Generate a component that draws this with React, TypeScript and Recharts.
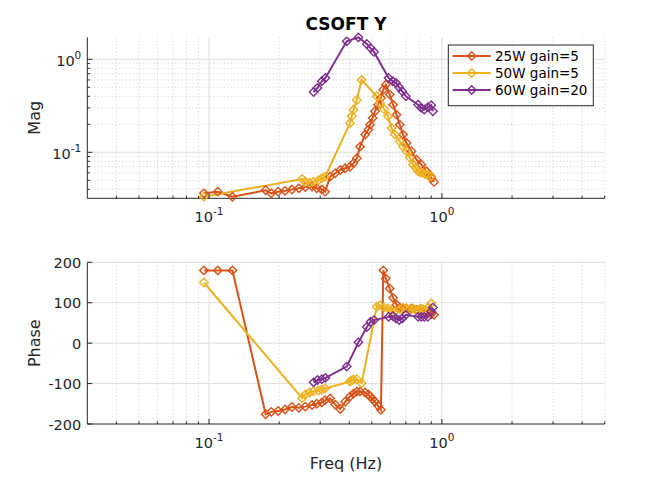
import React from 'react';
import { LineChart, Line, XAxis, YAxis, CartesianGrid } from 'recharts';

// ---------- data ----------
const freq25 = [0.095, 0.109, 0.126, 0.175, 0.185, 0.198, 0.212, 0.227, 0.243, 0.259, 0.277, 0.29, 0.305, 0.315, 0.331, 0.348, 0.366, 0.384, 0.403, 0.417, 0.431, 0.445, 0.468, 0.483, 0.491, 0.504, 0.516, 0.532, 0.547, 0.56, 0.574, 0.597, 0.617, 0.638, 0.659, 0.681, 0.704, 0.74, 0.778, 0.817, 0.858, 0.9, 0.925];
const mag25 = [0.0362, 0.0377, 0.0333, 0.039, 0.0362, 0.0377, 0.0385, 0.0398, 0.041, 0.0422, 0.0428, 0.041, 0.0398, 0.0377, 0.0547, 0.0594, 0.0645, 0.0673, 0.07, 0.076, 0.0862, 0.115, 0.155, 0.175, 0.198, 0.234, 0.276, 0.325, 0.384, 0.471, 0.533, 0.417, 0.325, 0.254, 0.198, 0.155, 0.126, 0.1025, 0.0832, 0.0736, 0.0625, 0.053, 0.048];
const phase25 = [180, 180, 180, -176, -170, -168, -164, -158, -160, -157, -153, -150, -147, -141, -137, -152, -163, -145, -132, -125, -120, -120, -122, -127, -132, -138, -145, -155, -165, 180, 160, 135, 112, 95, 88, 86, 86, 85, 82, 82, 78, 72, 70];

const freq50 = [0.095, 0.251, 0.259, 0.27, 0.281, 0.295, 0.305, 0.315, 0.403, 0.41, 0.417, 0.431, 0.452, 0.525, 0.542, 0.565, 0.587, 0.608, 0.628, 0.659, 0.681, 0.704, 0.728, 0.752, 0.77, 0.79, 0.81, 0.829, 0.85, 0.871, 0.9];
const mag50 = [0.0333, 0.0516, 0.0483, 0.047, 0.0483, 0.05, 0.0525, 0.0547, 0.206, 0.244, 0.287, 0.365, 0.6, 0.4, 0.339, 0.29, 0.244, 0.182, 0.155, 0.131, 0.115, 0.1025, 0.088, 0.0736, 0.068, 0.0625, 0.061, 0.0599, 0.058, 0.0575, 0.0552];
const phase50 = [150, -136, -127, -122, -119, -117, -115, -112, -95, -92, -90, -89, -99, 90, 94, 88, 86, 82, 78, 84, 88, 86, 84, 86, 82, 82, 86, 84, 82, 88, 98];

const freq60 = [0.281, 0.292, 0.305, 0.316, 0.39, 0.438, 0.476, 0.494, 0.511, 0.59, 0.615, 0.635, 0.655, 0.675, 0.7, 0.79, 0.815, 0.84, 0.87, 0.9, 0.915];
const mag60 = [0.445, 0.491, 0.58, 0.63, 1.56, 1.72, 1.46, 1.32, 1.2, 0.63, 0.58, 0.556, 0.5, 0.453, 0.4, 0.325, 0.3, 0.288, 0.305, 0.32, 0.276];
const phase60 = [-97, -91, -89, -86, -58, 2, 40, 53, 57, 65, 67, 61, 57, 61, 70, 65, 65, 65, 65, 78, 88];

const seriesNames = ['25W gain=5', '50W gain=5', '60W gain=20'];
const seriesColors = ['#D95319', '#EDB120', '#7E2F8E'];

const xMajorTicks = [0.1, 1];
const xMinorTicks = [0.04, 0.05, 0.06, 0.07, 0.08, 0.09, 0.2, 0.3, 0.4, 0.5, 0.6, 0.7, 0.8, 0.9, 2, 3, 4, 5];
const magMajorTicks = [0.1, 1];
const magMinorTicks = [0.04, 0.05, 0.06, 0.07, 0.08, 0.09, 0.2, 0.3, 0.4, 0.5, 0.6, 0.7, 0.8, 0.9];
const phaseTicks = [-200, -100, 0, 100, 200];
const phaseGridTicks = [-100, 0, 100, 200];
const xDomain = [0.03, 5];
const magDomain = [0.032, 1.724];
const phaseDomain = [-200, 200];

const titleText = 'CSOFT Y';
const magLabel = 'Mag';
const phaseLabel = 'Phase';
const freqLabel = 'Freq (Hz)';

// ---------- helpers ----------
const toRows = (f: number[], m: number[], p: number[]) => f.map((v, i) => ({ f: v, mag: m[i], phase: p[i] }));
const seriesRows = [toRows(freq25, mag25, phase25), toRows(freq50, mag50, phase50), toRows(freq60, mag60, phase60)];

const AXIS = '#262626';
const FONT = '"DejaVu Sans", sans-serif';
const TICK_FS = 14.5;
const SUP_FS = 10.5;
const W = 668;
const LEFT = 87.3;
const RIGHT = 63.3;

const isMajor = (list: number[], v: number) => list.some((t) => Math.abs(t - v) < 1e-9);

const LogXTick = (props: any) => {
  const { x, y, payload } = props;
  const v = payload.value;
  const major = isMajor(xMajorTicks, v);
  return (
    <g>
      <line x1={x} x2={x} y1={y} y2={y - (major ? 5 : 2.6)} stroke={AXIS} strokeWidth={1} />
      {major && (
        <text x={x} y={y + 24} textAnchor="middle" fontSize={TICK_FS} fill={AXIS} fontFamily={FONT}>
          <tspan>10</tspan>
          <tspan dy={-7} fontSize={SUP_FS}>{String(Math.round(Math.log10(v)))}</tspan>
        </text>
      )}
    </g>
  );
};

const LogYTick = (props: any) => {
  const { x, y, payload } = props;
  const v = payload.value;
  const major = isMajor(magMajorTicks, v);
  return (
    <g>
      <line x1={x} x2={x + (major ? 5 : 2.6)} y1={y} y2={y} stroke={AXIS} strokeWidth={1} />
      {major && (
        <text x={x - 6} y={y + 7} textAnchor="end" fontSize={TICK_FS} fill={AXIS} fontFamily={FONT}>
          <tspan>10</tspan>
          <tspan dy={-7} fontSize={SUP_FS}>{String(Math.round(Math.log10(v)))}</tspan>
        </text>
      )}
    </g>
  );
};

const LinYTick = (props: any) => {
  const { x, y, payload } = props;
  return (
    <g>
      <line x1={x} x2={x + 5} y1={y} y2={y} stroke={AXIS} strokeWidth={1} />
      <text x={x - 6} y={y + 5.5} textAnchor="end" fontSize={TICK_FS} fill={AXIS} fontFamily={FONT}>
        {String(payload.value)}
      </text>
    </g>
  );
};

const diamondPath = (cx: number, cy: number, r: number) =>
  `M${cx},${cy - r}L${cx + r},${cy}L${cx},${cy + r}L${cx - r},${cy}Z`;

const makeDot = (color: string) => (p: any) => {
  if (p.cx == null || p.cy == null) return <g key={`n-${p.index}`} />;
  return <path key={`d-${p.index}`} d={diamondPath(p.cx, p.cy, 4.2)} fill="none" stroke={color} strokeWidth={1.4} />;
};

const renderLines = (key: 'mag' | 'phase') =>
  seriesRows.map((rows, i) => (
    <Line
      key={`${key}-${i}`}
      data={rows}
      dataKey={key}
      name={seriesNames[i]}
      type="linear"
      stroke={seriesColors[i]}
      strokeWidth={2}
      dot={makeDot(seriesColors[i])}
      activeDot={false}
      isAnimationActive={false}
      legendType="none"
    />
  ));

const xAxisProps = {
  dataKey: 'f',
  type: 'number' as const,
  scale: 'log' as const,
  domain: xDomain,
  ticks: [...xMajorTicks, ...xMinorTicks],
  interval: 0,
  tickLine: false,
  tickSize: 0,
  tickMargin: 0,
  tick: LogXTick,
  axisLine: { stroke: AXIS, strokeWidth: 1 },
  allowDataOverflow: true,
};

export default function App() {
  return (
    <div style={{ position: 'relative', width: W, height: 477, background: '#fff', fontFamily: FONT }}>
      <style>{'body{margin:0;background:#fff}'}</style>
      <div style={{ position: 'absolute', left: 0, top: 0 }}>
        <LineChart width={W} height={240} margin={{ top: 37.3, right: RIGHT, bottom: 0, left: 0 }}>
          <CartesianGrid verticalValues={xMinorTicks} horizontalValues={magMinorTicks} stroke="#cfcfcf" strokeDasharray="1 2.5" />
          <CartesianGrid verticalValues={xMajorTicks} horizontalValues={magMajorTicks} stroke="#dedede" />
          <XAxis {...xAxisProps} height={41.7} />
          <YAxis
            type="number"
            scale="log"
            domain={magDomain}
            ticks={[...magMajorTicks, ...magMinorTicks]}
            interval={0}
            width={LEFT}
            tickLine={false}
            tickSize={0}
            tickMargin={0}
            tick={LogYTick}
            axisLine={{ stroke: AXIS, strokeWidth: 1 }}
          />
          {renderLines('mag')}
        </LineChart>
      </div>
      <div style={{ position: 'absolute', left: 0, top: 240 }}>
        <LineChart width={W} height={237} margin={{ top: 22.3, right: RIGHT, bottom: 0, left: 0 }}>
          <CartesianGrid verticalValues={xMinorTicks} horizontal={false} stroke="#cfcfcf" strokeDasharray="1 2.5" />
          <CartesianGrid verticalValues={xMajorTicks} horizontalValues={phaseGridTicks} stroke="#dedede" />
          <XAxis {...xAxisProps} height={53} />
          <YAxis
            type="number"
            domain={phaseDomain}
            ticks={phaseTicks}
            interval={0}
            width={LEFT}
            tickLine={false}
            tickSize={0}
            tickMargin={0}
            tick={LinYTick}
            axisLine={{ stroke: AXIS, strokeWidth: 1 }}
          />
          {renderLines('phase')}
        </LineChart>
      </div>
      <svg width={W} height={477} style={{ position: 'absolute', left: 0, top: 0, pointerEvents: 'none' }}>
        <text x={346} y={30} textAnchor="middle" fontSize={17} fontWeight="bold" fill="#000" fontFamily={FONT}>{titleText}</text>
        <text transform="translate(39.5,117.8) rotate(-90)" textAnchor="middle" fontSize={16} fill={AXIS} fontFamily={FONT}>{magLabel}</text>
        <text transform="translate(39.5,343.2) rotate(-90)" textAnchor="middle" fontSize={16} fill={AXIS} fontFamily={FONT}>{phaseLabel}</text>
        <text x={346} y={469} textAnchor="middle" fontSize={16} fill={AXIS} fontFamily={FONT}>{freqLabel}</text>
        <rect x={448.3} y={45} width={145} height={60.7} fill="#fff" stroke={AXIS} strokeWidth={1} />
        {seriesNames.map((name, i) => {
          const cy = 56 + i * 17;
          return (
            <g key={name}>
              <line x1={452.7} x2={490.7} y1={cy} y2={cy} stroke={seriesColors[i]} strokeWidth={2} />
              <path d={diamondPath(471.7, cy, 4.2)} fill="none" stroke={seriesColors[i]} strokeWidth={1.4} />
              <text x={495} y={cy + 5} fontSize={13.5} fill="#000" fontFamily={FONT}>{name}</text>
            </g>
          );
        })}
      </svg>
    </div>
  );
}
